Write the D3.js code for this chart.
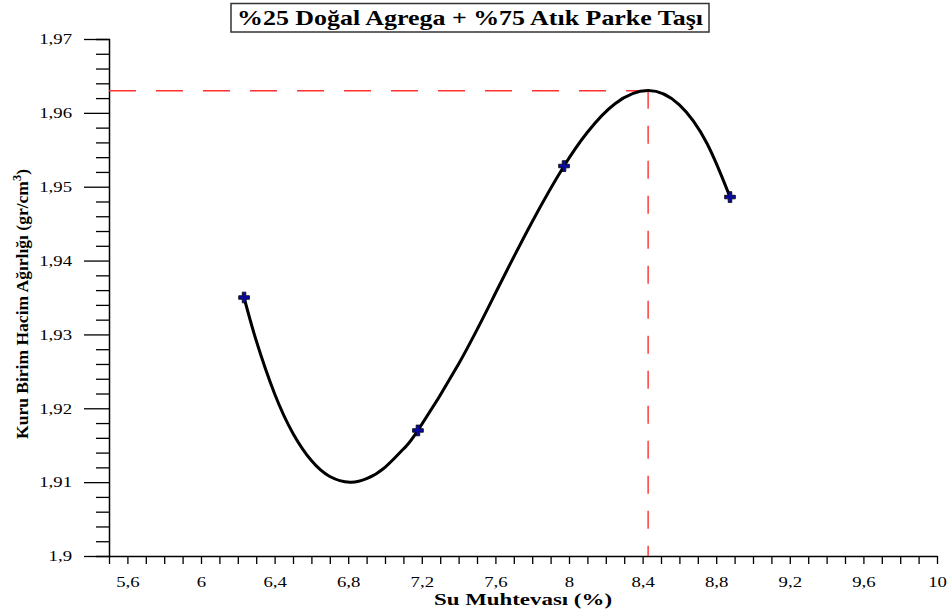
<!DOCTYPE html>
<html><head><meta charset="utf-8">
<script src="https://cdn.jsdelivr.net/npm/d3@7/dist/d3.min.js"></script>
<style>body{margin:0;background:#fff}svg{display:block}</style>
</head><body><svg id="c" width="947" height="613"></svg>
<script>
// ---- data ----
const title = "%25 Doğal Agrega + %75 Atık Parke Taşı";
const xTitle = "Su Muhtevası (%)";
const yTitleMain = "Kuru Birim Hacim Ağırlığı (gr/cm";
const yTitleSup = "3";
const xDomain = [5.5, 10];
const yDomain = [1.9, 1.97];
const xLabelValues = [5.6, 6, 6.4, 6.8, 7.2, 7.6, 8, 8.4, 8.8, 9.2, 9.6, 10];
const xLabelTexts = ["5,6","6","6,4","6,8","7,2","7,6","8","8,4","8,8","9,2","9,6","10"];
const yLabelValues = [1.9, 1.91, 1.92, 1.93, 1.94, 1.95, 1.96, 1.97];
const yLabelTexts = ["1,9","1,91","1,92","1,93","1,94","1,95","1,96","1,97"];
const xMinorStep = 0.1, yMinorStep = 0.002;
// measured points
const pointX = [6.234, 7.179, 7.973, 8.875];
const pointY = [1.935, 1.917, 1.9528, 1.9486];
// fitted curve
const fitX = [6.234, 6.3, 6.4, 6.5, 6.6, 6.7, 6.81, 6.9, 7.0, 7.1, 7.179, 7.4, 7.6, 7.8, 7.973, 8.1, 8.25, 8.43, 8.6, 8.75, 8.875];
const fitY = [1.93500, 1.92917, 1.92197, 1.91660, 1.91292, 1.91077, 1.90999, 1.91046, 1.91201, 1.91448, 1.91700, 1.92600, 1.93557, 1.94526, 1.95280, 1.95737, 1.96124, 1.96302, 1.96108, 1.95586, 1.94860];
// optimum
const peakX = 8.43, peakY = 1.963;

// ---- drawing ----
const svg = d3.select("#c");
const L = 109, R = 937, T = 39, B = 556;
const x = d3.scaleLinear().domain(xDomain).range([L, R]);
const y = d3.scaleLinear().domain(yDomain).range([B, T]);
const serif = "'Liberation Serif','Times New Roman',serif";

// title box
const tg = svg.append("g");
tg.append("rect").attr("x", 231).attr("y", 3.5).attr("width", 478).attr("height", 28.5)
  .attr("fill", "#fff").attr("stroke", "#333").attr("stroke-width", 1.5);
tg.append("text").attr("x", 237).attr("y", 25).attr("font-family", serif).attr("font-weight", "bold")
  .attr("font-size", 22).attr("textLength", 466).attr("lengthAdjust", "spacingAndGlyphs").text(title);

// axes
const xMinor = d3.range(Math.round((xDomain[1]-xDomain[0])/xMinorStep)+1).map(i => +(xDomain[0]+i*xMinorStep).toFixed(2));
const yMinor = d3.range(Math.round((yDomain[1]-yDomain[0])/yMinorStep)+1).map(i => +(yDomain[0]+i*yMinorStep).toFixed(3));

const xa = svg.append("g").attr("transform", `translate(0,${B})`)
  .call(d3.axisBottom(x).tickValues(xMinor).tickSize(8).tickSizeOuter(0).tickFormat(d => {
    const i = xLabelValues.findIndex(v => Math.abs(v-d) < 1e-6); return i >= 0 ? xLabelTexts[i] : ""; }));
xa.select(".domain").attr("stroke", "#000").attr("stroke-width", 1.5);
xa.selectAll(".tick line").attr("stroke", "#000").attr("stroke-width", 1.3);
xa.selectAll(".tick text").attr("font-family", serif).attr("font-size", 15).attr("fill", "#000")
  .attr("y", 31).attr("dy", 0).attr("transform", "scale(1.25,1)");

const ya = svg.append("g").attr("transform", `translate(${L},0)`)
  .call(d3.axisLeft(y).tickValues(yMinor).tickSizeOuter(0).tickSize(13).tickFormat(d => {
    const i = yLabelValues.findIndex(v => Math.abs(v-d) < 1e-7); return i >= 0 ? yLabelTexts[i] : ""; }));
ya.select(".domain").attr("stroke", "#000").attr("stroke-width", 1.5);
ya.selectAll(".tick").each(function(d) {
  const major = yLabelValues.some(v => Math.abs(v-d) < 1e-7);
  d3.select(this).select("line").attr("x2", major ? -25 : -13).attr("stroke", "#000").attr("stroke-width", 1.3);
  d3.select(this).select("text").attr("x", -37/1.25).attr("dy", "0.32em").attr("transform", "scale(1.25,1)")
    .attr("font-family", serif).attr("font-size", 15).attr("fill", "#000");
});

// axis titles
svg.append("text").attr("x", 434).attr("y", 605).attr("font-family", serif).attr("font-weight", "bold")
  .attr("font-size", 17).attr("textLength", 178).attr("lengthAdjust", "spacingAndGlyphs").text(xTitle);
const yt = svg.append("text").attr("transform", "translate(28,304) rotate(-90)").attr("text-anchor", "middle")
  .attr("font-family", serif).attr("font-weight", "bold").attr("font-size", 17)
  .attr("textLength", 270).attr("lengthAdjust", "spacingAndGlyphs");
yt.append("tspan").text(yTitleMain);
yt.append("tspan").attr("dy", -7).attr("font-size", 12).text(yTitleSup);
yt.append("tspan").attr("dy", 7).text(")");

// red dashed optimum lines
svg.append("line").attr("x1", x(xDomain[0])).attr("x2", x(peakX)).attr("y1", y(peakY)).attr("y2", y(peakY))
  .attr("stroke", "#ff3030").attr("stroke-width", 1.4).attr("stroke-dasharray", "27,20");
svg.append("line").attr("x1", x(peakX)).attr("x2", x(peakX)).attr("y1", y(peakY)).attr("y2", y(yDomain[0]))
  .attr("stroke", "#ff3030").attr("stroke-width", 1.4).attr("stroke-dasharray", "18,17");

// curve
const fit = fitX.map((d, i) => [d, fitY[i]]);
svg.append("path").datum(fit).attr("fill", "none").attr("stroke", "#000").attr("stroke-width", 3)
  .attr("d", d3.line().x(d => x(d[0])).y(d => y(d[1])).curve(d3.curveNatural));

// markers
svg.selectAll(".pt").data(pointX.map((d, i) => [d, pointY[i]])).join("path").attr("class", "pt")
  .attr("transform", d => `translate(${x(d[0])},${y(d[1])})`)
  .attr("d", d3.symbol(d3.symbolCross, 64))
  .attr("fill", "#0a0aa0").attr("stroke", "#000").attr("stroke-width", 0.8);
</script></body></html>
